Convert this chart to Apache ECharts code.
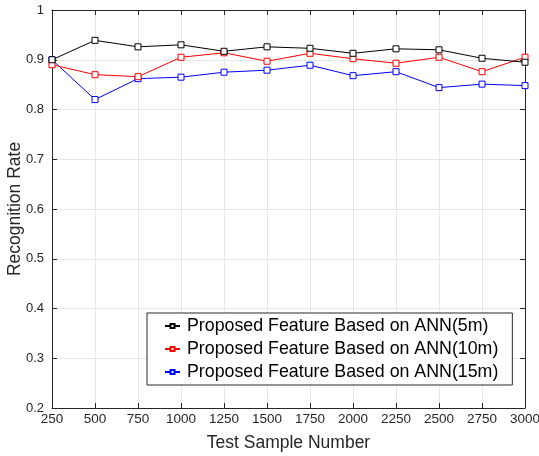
<!DOCTYPE html>
<html><head><meta charset="utf-8">
<script src="https://cdn.jsdelivr.net/npm/echarts@6/dist/echarts.min.js"></script>
<style>html,body{margin:0;padding:0;background:#fff}#c{width:539px;height:456px}</style>
</head><body><div id="c"></div>
<script>
const xValues = [250,500,750,1000,1250,1500,1750,2000,2250,2500,2750,3000];
const ann5m  = [0.900,0.939,0.926,0.930,0.917,0.926,0.923,0.913,0.922,0.920,0.903,0.895];
const ann10m = [0.890,0.870,0.866,0.905,0.914,0.897,0.913,0.902,0.893,0.905,0.876,0.905];
const ann15m = [0.900,0.820,0.862,0.865,0.875,0.879,0.889,0.868,0.876,0.844,0.851,0.848];
const names = ['Proposed Feature Based on ANN(5m)','Proposed Feature Based on ANN(10m)','Proposed Feature Based on ANN(15m)'];
const colors = ['#000000','#ff0000','#0000ff'];
const seriesData = [ann5m, ann10m, ann15m];

const font = 'Liberation Sans, Arial, sans-serif';
const axisCol = '#262626';
const chart = echarts.init(document.getElementById('c'));
const mk = (xs, ys) => xs.map((x,i)=>[x, ys[i]]);
const baseX = {type:'value',min:250,max:3000,interval:250,
  axisLine:{show:true,onZero:false,lineStyle:{color:axisCol,width:1}},
  axisTick:{show:true,inside:true,length:5,lineStyle:{color:axisCol}},
  splitLine:{show:false}};
const baseY = {type:'value',min:0.2,max:1,interval:0.1,
  axisLine:{show:true,onZero:false,lineStyle:{color:axisCol,width:1}},
  axisTick:{show:true,inside:true,length:5,lineStyle:{color:axisCol}},
  splitLine:{show:false}};
chart.setOption({
  animation:false,
  backgroundColor:'#fff',
  grid:{left:52,right:14,top:10,bottom:48,containLabel:false,outerBoundsMode:'none'},
  xAxis:[
    Object.assign({}, baseX, {position:'bottom',
      name:'Test Sample Number',nameLocation:'middle',nameGap:26,nameMoveOverlap:false,
      nameTextStyle:{fontFamily:font,fontSize:17.5,color:'#262626'},
      axisLabel:{fontFamily:font,fontSize:13.5,color:'#262626',margin:4,
        formatter:v=>String(v)},
      splitLine:{show:true,lineStyle:{color:'#e6e6e6',width:1}}}),
    Object.assign({}, baseX, {position:'top',axisLabel:{show:false}})
  ],
  yAxis:[
    Object.assign({}, baseY, {position:'left',
      name:'Recognition Rate',nameLocation:'middle',nameGap:28,nameMoveOverlap:false,
      nameTextStyle:{fontFamily:font,fontSize:17.5,color:'#262626'},
      axisLabel:{fontFamily:font,fontSize:13,color:'#262626',margin:8,
        formatter:v=>String(Math.round(v*10)/10)},
      splitLine:{show:true,lineStyle:{color:'#e6e6e6',width:1}}}),
    Object.assign({}, baseY, {position:'right',axisLabel:{show:false}})
  ],
  legend:{
    orient:'vertical',left:147,top:313,
    backgroundColor:'#fff',borderColor:axisCol,borderWidth:1,
    padding:[4,14,4,17],itemGap:5,itemWidth:15,itemHeight:5,
    textStyle:{fontFamily:font,fontSize:17.8,color:'#000',padding:[0,0,0,2]},
    data:names
  },
  series: seriesData.map((d,i)=>({
    name:names[i],type:'line',data:mk(xValues,d),
    symbol:'rect',symbolSize:6,showSymbol:true,
    itemStyle:{color:'#fff',borderColor:colors[i],borderWidth:1},
    lineStyle:{color:colors[i],width:1},
    z:10-i
  }))
});
</script></body></html>
